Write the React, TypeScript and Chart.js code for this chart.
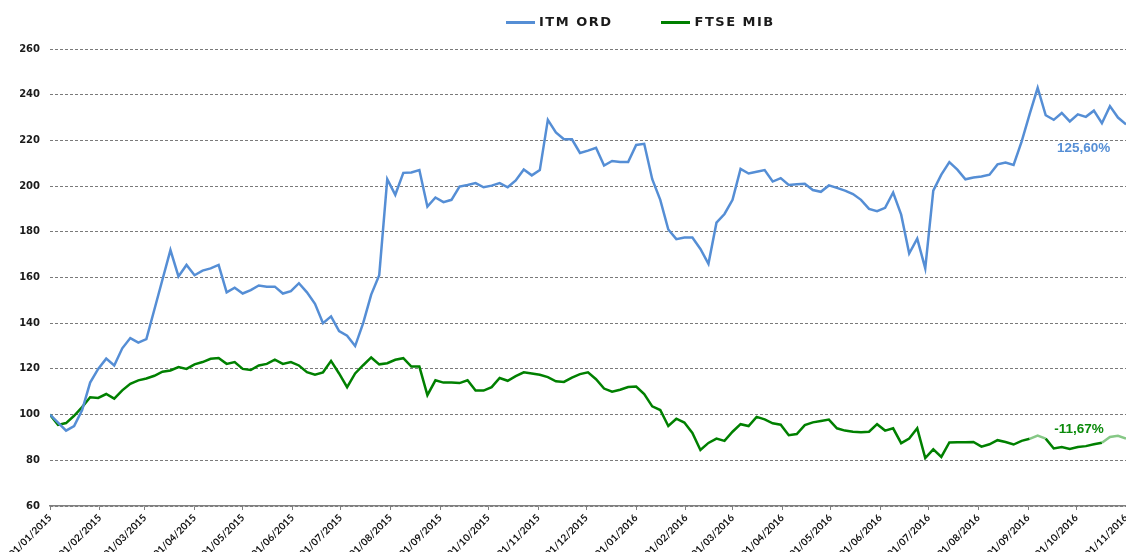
import React, { useEffect, useRef } from 'react';
import { Chart, registerables } from 'chart.js';

Chart.register(...registerables);

// ---- data ----
const seriesNames = ['ITM ORD', 'FTSE MIB'];

const monthLabels = [
  '01/01/2015', '01/02/2015', '01/03/2015', '01/04/2015', '01/05/2015', '01/06/2015',
  '01/07/2015', '01/08/2015', '01/09/2015', '01/10/2015', '01/11/2015', '01/12/2015',
  '01/01/2016', '01/02/2016', '01/03/2016', '01/04/2016', '01/05/2016', '01/06/2016',
  '01/07/2016', '01/08/2016', '01/09/2016', '01/10/2016', '01/11/2016',
];
// days elapsed since 01/01/2015 for each month label
const monthTickDays = [
  0, 31, 59, 90, 120, 151, 181, 212, 243, 273, 304, 334,
  365, 396, 425, 456, 486, 517, 547, 578, 609, 639, 670,
];

const yTickValues = [60, 80, 100, 120, 140, 160, 180, 200, 220, 240, 260];

// one sample every STEP_DAYS calendar days, starting 01/01/2015
const STEP_DAYS = 5;

const itmValues = [
  100, 96.5, 93, 95, 102, 114, 120, 124.5, 121.5, 129,
  133.5, 131.5, 133, 146, 159, 172, 160.5, 165.5, 161, 163,
  164, 165.5, 153.5, 155.5, 153, 154.5, 156.5, 156, 156, 153,
  154, 157.5, 153.5, 148.5, 140, 143, 136.5, 134.5, 130, 140,
  152.5, 161, 203, 196.2, 205.8, 206, 207, 191, 195, 193,
  194, 199.8, 200.5, 201.3, 199.5, 200.2, 201.3, 199.5, 202.5, 207.3,
  204.7, 207, 229, 223.5, 220.5, 220.5, 214.5, 215.5, 216.8, 209,
  211, 210.5, 210.5, 218, 218.5, 203, 194, 181, 176.8, 177.5,
  177.5, 172.5, 166, 184, 187.8, 194, 207.5, 205.5, 206.3, 207,
  202, 203.5, 200.5, 200.8, 201, 198.3, 197.5, 200.3, 199.2, 198,
  196.5, 194, 190, 189, 190.5, 197.2, 187.5, 170.5, 177, 164,
  198, 205, 210.5, 207.2, 203, 203.8, 204.2, 205, 209.5, 210.3,
  209.3, 219.5, 231.5, 243, 231, 229, 232, 228.3, 231.4, 230.3,
  233, 227.5, 235, 230, 227,
];

const ftseValues = [
  100, 95.5, 96.3, 99.5, 103.3, 107.6, 107.3, 109, 107, 110.6,
  113.5, 115, 115.8, 117, 118.8, 119.3, 120.8, 120, 122, 123,
  124.4, 124.8, 122.2, 123, 120, 119.5, 121.5, 122.2, 124, 122.2,
  123, 121.5, 118.6, 117.5, 118.5, 123.5, 118, 112, 118, 121.6,
  125, 122, 122.5, 124, 124.7, 121, 121, 108.5, 115, 114,
  114, 113.8, 115, 110.5, 110.5, 112, 116, 114.8, 116.8, 118.5,
  118, 117.4, 116.4, 114.6, 114.3, 116.2, 117.7, 118.5, 115.5, 111.4,
  110, 110.9, 112.1, 112.3, 109, 103.6, 102, 95, 98.2, 96.5,
  92, 84.5, 87.6, 89.5, 88.5, 92.5, 95.8, 95, 99, 97.9,
  96.2, 95.6, 91, 91.5, 95.4, 96.6, 97.2, 97.8, 94, 93,
  92.5, 92.3, 92.5, 95.8, 93, 94, 87.5, 89.5, 94, 81,
  84.8, 81.5, 87.8, 87.9, 87.9, 88, 86, 87, 88.8, 88,
  86.9, 88.5, 89.4, 90.8, 89.5, 85.2, 85.8, 85, 85.8, 86.2,
  87, 87.7, 90.2, 90.7, 89.5,
];

// day ranges where the FTSE MIB line is drawn in a paler green
const ftseFadedRanges = [
  [610, 620],
  [655, 670],
];

const endLabels = [
  { text: '125,60%', day: 643.6, value: 216.5, color: '#558ED5' },
  { text: '-11,67%', day: 640.7, value: 93.7, color: '#0A8A0A' },
];

const BLUE = '#558ED5';
const GREEN = '#008000';
const PALE_GREEN = '#86C886';

const toPoints = (vals: number[]) => vals.map((v, i) => ({ x: i * STEP_DAYS, y: v }));

const isFaded = (a: number, b: number) =>
  ftseFadedRanges.some(([s, e]) => a >= s && b <= e);

export default function App() {
  const canvasRef = useRef<HTMLCanvasElement | null>(null);

  useEffect(() => {
    document.body.style.margin = '0';
    document.body.style.overflow = 'hidden';
    const canvas = canvasRef.current;
    if (!canvas) return;

    const labelPlugin = {
      id: 'endLabels',
      afterDatasetsDraw(chart: any) {
        const { ctx, scales } = chart;
        const xs = scales.x;
        const ys = scales.y;
        ctx.save();
        ctx.font = 'bold 13.5px "Liberation Sans", Arial, sans-serif';
        ctx.textAlign = 'center';
        ctx.textBaseline = 'middle';
        for (const l of endLabels) {
          ctx.fillStyle = l.color;
          ctx.fillText(l.text, xs.getPixelForValue(l.day), ys.getPixelForValue(l.value));
        }
        ctx.restore();
      },
    };

    const yFont = { family: '"DejaVu Sans", sans-serif', size: 10, weight: 'bold' as const };
    const xFont = { family: 'Lato, "DejaVu Sans", sans-serif', size: 10, weight: 'bold' as const };

    const chart = new Chart(canvas, {
      type: 'line',
      data: {
        datasets: [
          {
            label: seriesNames[0],
            data: toPoints(itmValues),
            borderColor: BLUE,
            borderWidth: 2.5,
            pointRadius: 0,
            tension: 0,
            fill: false,
          },
          {
            label: seriesNames[1],
            data: toPoints(ftseValues),
            borderColor: GREEN,
            borderWidth: 2.5,
            pointRadius: 0,
            tension: 0,
            fill: false,
            segment: {
              borderColor: (c: any) => (isFaded(c.p0.parsed.x, c.p1.parsed.x) ? PALE_GREEN : undefined),
            },
          },
        ],
      },
      options: {
        animation: false,
        responsive: false,
        maintainAspectRatio: false,
        layout: { padding: { top: 49, right: 0, bottom: 0, left: 0 } },
        plugins: { legend: { display: false }, tooltip: { enabled: false } },
        scales: {
          x: {
            type: 'linear',
            min: 0,
            max: 670,
            afterBuildTicks: (s: any) => {
              s.ticks = monthTickDays.map((v) => ({ value: v }));
            },
            afterFit: (s: any) => {
              s.height = 46;
              s.paddingLeft = 0;
              s.paddingRight = 0;
            },
            ticks: {
              autoSkip: false,
              maxRotation: 45,
              minRotation: 45,
              padding: 2,
              color: '#111',
              font: xFont,
              callback: (v: any) => monthLabels[monthTickDays.indexOf(Number(v))] ?? '',
            },
            grid: { drawOnChartArea: false, drawTicks: true, tickLength: 4, color: '#808080' },
            border: { display: true, color: '#808080', width: 1.5 },
          },
          y: {
            min: 60,
            max: 260,
            afterBuildTicks: (s: any) => {
              s.ticks = yTickValues.map((v) => ({ value: v }));
            },
            afterFit: (s: any) => {
              s.width = 50;
              s.paddingTop = 0;
              s.paddingBottom = 0;
            },
            ticks: { padding: 10, color: '#1a1a1a', font: yFont },
            grid: { color: '#7a7a7a', drawTicks: false, lineWidth: 1 },
            border: { display: false, dash: [3, 2] },
          },
        },
      },
      plugins: [labelPlugin],
    } as any);

    return () => chart.destroy();
  }, []);

  const legendText: React.CSSProperties = {
    font: 'bold 13px "DejaVu Sans", sans-serif',
    letterSpacing: '1.5px',
    color: '#1a1a1a',
    lineHeight: '16px',
  };

  return (
    <div style={{ position: 'relative', width: 1126, height: 552, background: '#fff' }}>
      <canvas ref={canvasRef} width={1126} height={552} style={{ display: 'block', width: 1126, height: 552 }} />
      <div style={{ position: 'absolute', top: 14, left: 506, display: 'flex', alignItems: 'center' }}>
        <span style={{ display: 'inline-block', width: 29, height: 3, background: BLUE, marginRight: 4 }} />
        <span style={legendText}>{seriesNames[0]}</span>
        <span style={{ display: 'inline-block', width: 29, height: 3, background: GREEN, marginLeft: 48, marginRight: 5 }} />
        <span style={legendText}>{seriesNames[1]}</span>
      </div>
    </div>
  );
}
